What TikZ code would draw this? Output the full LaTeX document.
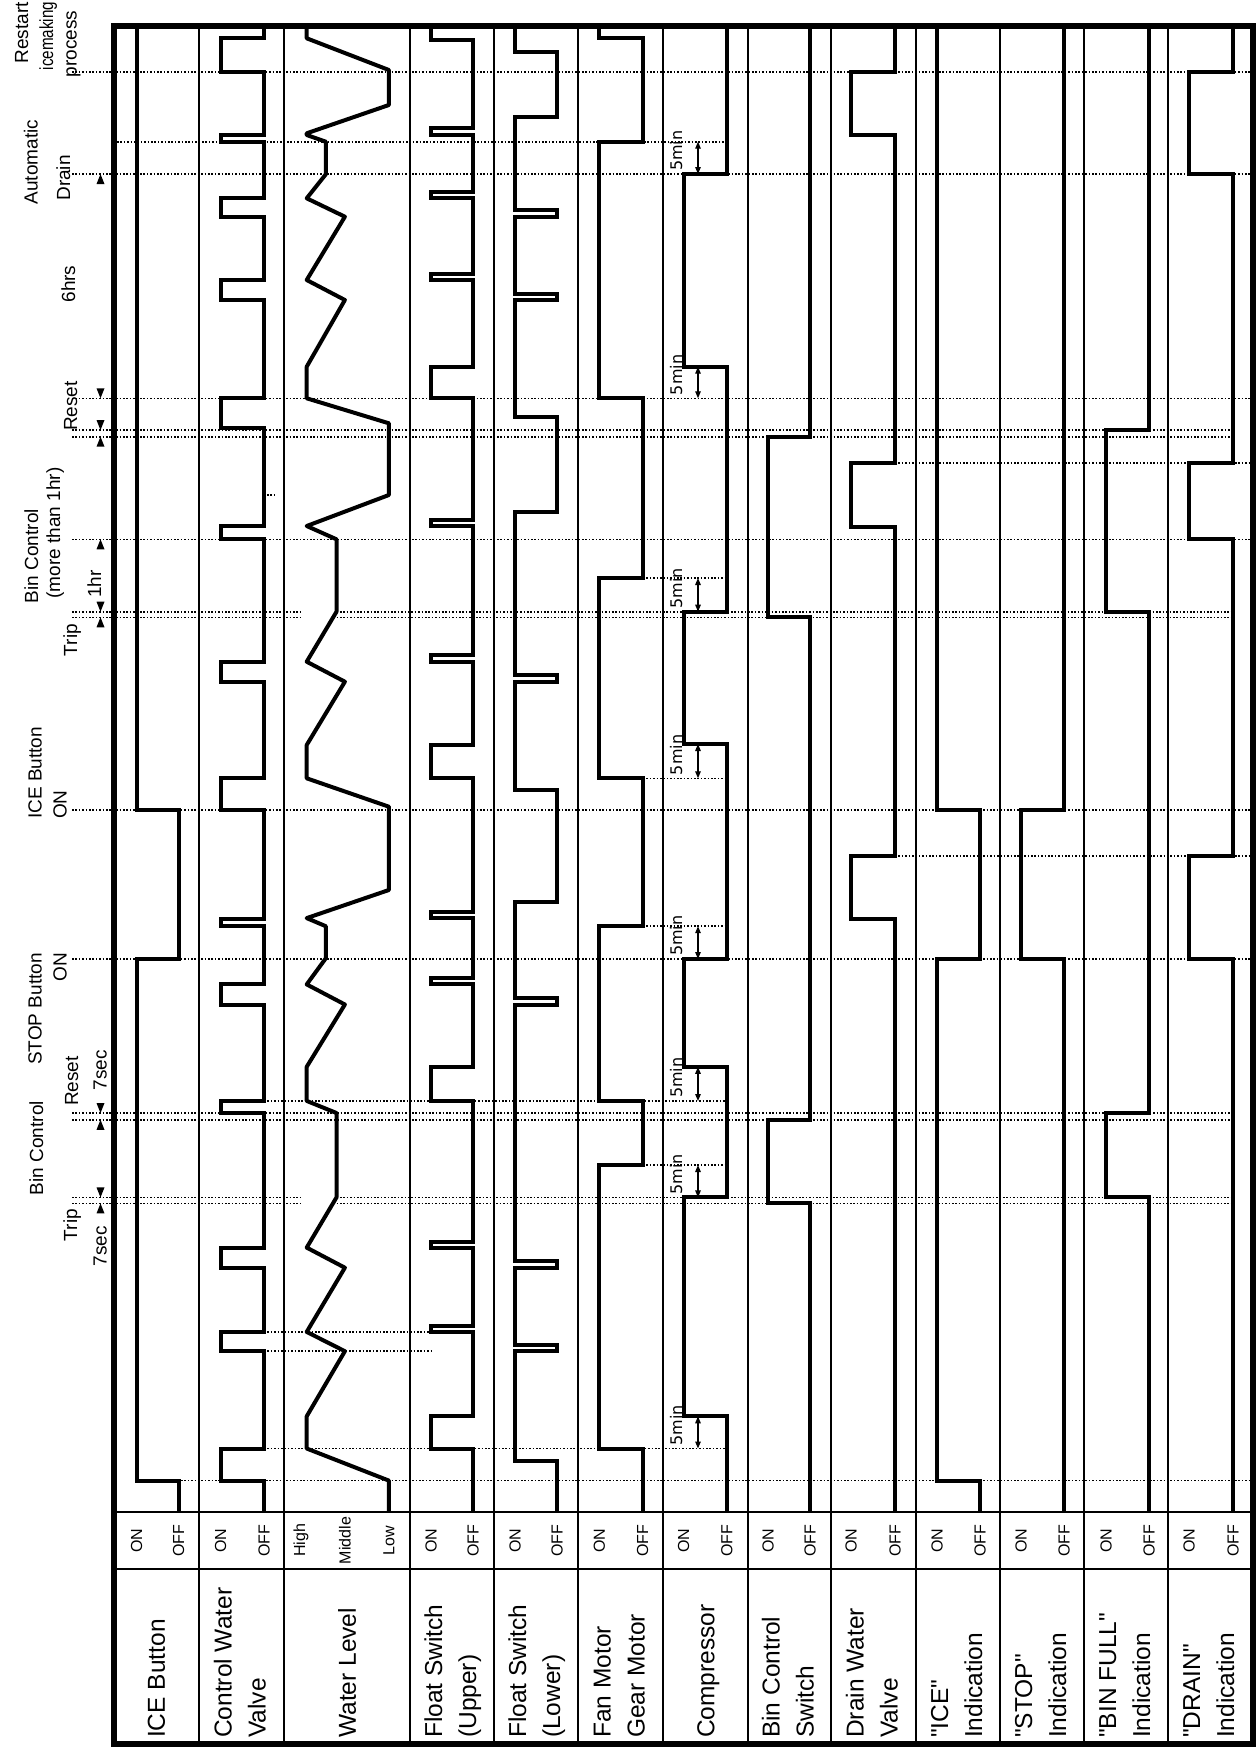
\documentclass[tikz,border=0pt]{standalone}
\usepackage{fontspec}
\setmainfont{Liberation Sans}[Ligatures=TeXOff]
\newfontfamily\dvsans{DejaVu Sans}
\usetikzlibrary{arrows.meta}
\newcommand\mkup[1]{\fill (96.5,{#1+10}) -- (104.5,{#1+10}) -- (100.5,#1) -- cycle;}
\newcommand\mkdown[1]{\fill (96.5,{#1-10}) -- (104.5,{#1-10}) -- (100.5,#1) -- cycle;}
\begin{document}
\begin{tikzpicture}[x=1pt,y=-1pt,
 sig/.style={line width=4pt, line join=miter},
 wsig/.style={line width=4pt, line join=round},
 dotl/.style={line width=1.6pt, dash pattern=on 1.6pt off 1.8pt},
 gridl/.style={line width=1.8pt},
 rowlab/.style={rotate=90, anchor=base west, inner sep=0pt, font=\fontsize{24.5}{29}\selectfont},
 lvl/.style={rotate=90, anchor=center, inner sep=0pt, font=\fontsize{16}{18}\selectfont},
 ann/.style={rotate=90, anchor=base, inner sep=0pt, font=\fontsize{19}{22}\selectfont},
 fivemin/.style={rotate=90, anchor=base west, inner sep=0pt, font=\dvsans\fontsize{16}{18}\selectfont},
 dimarrow/.style={line width=1.3pt, {Triangle[length=7pt,width=5.5pt]}-{Triangle[length=7pt,width=5.5pt]}}
]
\useasboundingbox (0,0) rectangle (1259,1751);

% ---------- dotted time lines ----------
\foreach \y in {72,174,398.3,539.3,810,959}{\draw[dotl] (72,\y) -- (1253,\y);}
\foreach \y in {430,436.7,1113,1119.8}{\draw[dotl] (72,\y) -- (1233,\y);}
\foreach \y in {611.7,617.3,1197.4,1203.4}{\draw[dotl] (72,\y) -- (301,\y); \draw[dotl] (336.5,\y) -- (1233,\y);}
\draw[dotl] (117,141.7) -- (727,141.7);
\foreach \y in {578,778.3,926.2,1165}{\draw[dotl] (643,\y) -- (727,\y);}
\foreach \y in {1101,1448.5}{\draw[dotl] (264,\y) -- (727,\y);}
\foreach \y in {1331.9,1351.2}{\draw[dotl] (264,\y) -- (431,\y);}
\foreach \y in {462.7,856}{\draw[dotl] (895,\y) -- (1253,\y);}
\draw[dotl] (181,1480.6) -- (1253,1480.6);
\draw[dotl] (267,495) -- (274,495);

% ---------- grid ----------
\foreach \x in {199,284,410,494,578,663,748,831,916,1000,1084,1168}{\draw[gridl] (\x,26) -- (\x,1744);}
\draw[gridl] (114,1512) -- (1253,1512);
\draw[gridl] (114,1569) -- (1253,1569);

% ---------- signals ----------
% ICE button
\draw[sig] (136.5,26) -- (136.5,810) -- (178.5,810) -- (178.5,959) -- (136.5,959) -- (136.5,1480.6) -- (178.5,1480.6) -- (178.5,1512);
% Control water valve
\draw[sig] (264,26) -- (264,38.3) -- (220.5,38.3) -- (220.5,71.7) -- (264,71.7)
 -- (264,135) -- (220.5,135) -- (220.5,141.7) -- (264,141.7)
 -- (264,198.3) -- (220.5,198.3) -- (220.5,216.7) -- (264,216.7)
 -- (264,280) -- (220.5,280) -- (220.5,300) -- (264,300)
 -- (264,398.3) -- (220.5,398.3) -- (220.5,428.3) -- (264,428.3)
 -- (264,526) -- (220.5,526) -- (220.5,539.3) -- (264,539.3)
 -- (264,661.7) -- (220.5,661.7) -- (220.5,681.7) -- (264,681.7)
 -- (264,778.3) -- (220.5,778.3) -- (220.5,810) -- (264,810)
 -- (264,918.5) -- (220.5,918.5) -- (220.5,926) -- (264,926)
 -- (264,984.4) -- (220.5,984.4) -- (220.5,1004.5) -- (264,1004.5)
 -- (264,1100.9) -- (220.5,1100.9) -- (220.5,1113) -- (264,1113)
 -- (264,1247.6) -- (220.5,1247.6) -- (220.5,1267.7) -- (264,1267.7)
 -- (264,1331.9) -- (220.5,1331.9) -- (220.5,1351.2) -- (264,1351.2)
 -- (264,1448.5) -- (220.5,1448.5) -- (220.5,1480.6) -- (264,1480.6)
 -- (264,1512);
% Water level
\draw[wsig] (306.7,26) -- (306.7,38.3) -- (388.9,70) -- (388.9,105) -- (306.7,133.3) -- (306.7,135)
 -- (325.8,141.7) -- (325.8,174.3) -- (306.7,198.3) -- (344.9,216.7) -- (306.7,280) -- (344.9,300)
 -- (306.7,366.7) -- (306.7,398.3) -- (388.9,423.3) -- (388.9,495) -- (306.7,526) -- (336.5,539.3)
 -- (336.5,611.7) -- (306.7,661.7) -- (344.9,681.7) -- (306.7,745) -- (306.7,778.3) -- (388.9,806.7)
 -- (388.9,890) -- (306.7,918.1) -- (325.8,926.2) -- (325.8,958.3) -- (306.7,984.4) -- (344.9,1004.5)
 -- (306.7,1066.8) -- (306.7,1100.9) -- (336.5,1113) -- (336.5,1197.4) -- (306.7,1247.6) -- (344.9,1267.7)
 -- (306.7,1331.9) -- (344.9,1351.2) -- (306.7,1416.3) -- (306.7,1448.5) -- (388.9,1480.6) -- (388.9,1512);
% Float switch upper
\draw[sig] (431,26) -- (431,40) -- (473,40)
 -- (473,128.3) -- (431,128.3) -- (431,135) -- (473,135)
 -- (473,191.7) -- (431,191.7) -- (431,198.3) -- (473,198.3)
 -- (473,273.5) -- (431,273.5) -- (431,280) -- (473,280)
 -- (473,366.7) -- (431,366.7) -- (431,398.3) -- (473,398.3)
 -- (473,519.5) -- (431,519.5) -- (431,526) -- (473,526)
 -- (473,655) -- (431,655) -- (431,661.7) -- (473,661.7)
 -- (473,745) -- (431,745) -- (431,778.3) -- (473,778.3)
 -- (473,912) -- (431,912) -- (431,918.1) -- (473,918.1)
 -- (473,978.4) -- (431,978.4) -- (431,984.4) -- (473,984.4)
 -- (473,1066.8) -- (431,1066.8) -- (431,1100.9) -- (473,1100.9)
 -- (473,1241.5) -- (431,1241.5) -- (431,1247.6) -- (473,1247.6)
 -- (473,1325.9) -- (431,1325.9) -- (431,1331.9) -- (473,1331.9)
 -- (473,1416.3) -- (431,1416.3) -- (431,1448.5) -- (473,1448.5)
 -- (473,1512);
% Float switch lower
\draw[sig] (515,26) -- (515,51.7) -- (557,51.7) -- (557,116.7) -- (515,116.7)
 -- (515,210.2) -- (557,210.2) -- (557,216.7) -- (515,216.7)
 -- (515,293.5) -- (557,293.5) -- (557,300) -- (515,300)
 -- (515,416.7) -- (557,416.7) -- (557,511.7) -- (515,511.7)
 -- (515,675.2) -- (557,675.2) -- (557,681.7) -- (515,681.7)
 -- (515,790) -- (557,790) -- (557,902) -- (515,902)
 -- (515,998) -- (557,998) -- (557,1004.5) -- (515,1004.5)
 -- (515,1261.2) -- (557,1261.2) -- (557,1267.7) -- (515,1267.7)
 -- (515,1344.7) -- (557,1344.7) -- (557,1351.2) -- (515,1351.2)
 -- (515,1460.5) -- (557,1460.5) -- (557,1512);
% Fan motor
\draw[sig] (599.4,26) -- (599.4,38.3) -- (642.7,38.3) -- (642.7,141.7) -- (599.4,141.7) -- (599.4,398.3) -- (642.7,398.3)
 -- (642.7,578) -- (599.4,578) -- (599.4,778.3) -- (642.7,778.3) -- (642.7,926.2) -- (599.4,926.2) -- (599.4,1101)
 -- (642.7,1101) -- (642.7,1165) -- (599.4,1165) -- (599.4,1448.5) -- (642.7,1448.5) -- (642.7,1512);
% Compressor
\draw[sig] (726.8,26) -- (726.8,174) -- (683.7,174) -- (683.7,366.7) -- (726.8,366.7) -- (726.8,611.7) -- (683.7,611.7)
 -- (683.7,744) -- (726.8,744) -- (726.8,959) -- (683.7,959) -- (683.7,1066.8) -- (726.8,1066.8) -- (726.8,1197.4)
 -- (683.7,1197.4) -- (683.7,1416.3) -- (726.8,1416.3) -- (726.8,1512);
% Bin control switch
\draw[sig] (810,26) -- (810,436.7) -- (768,436.7) -- (768,617.3) -- (810,617.3) -- (810,1119.8) -- (768,1119.8) -- (768,1203.4) -- (810,1203.4) -- (810,1512);
% Drain water valve
\draw[sig] (895,26) -- (895,72) -- (851,72) -- (851,135) -- (895,135) -- (895,462.7) -- (851,462.7) -- (851,527.3) -- (895,527.3)
 -- (895,856) -- (851,856) -- (851,919.3) -- (895,919.3) -- (895,1512);
% ICE indication
\draw[sig] (937,26) -- (937,810) -- (980,810) -- (980,959) -- (937,959) -- (937,1480.6) -- (980,1480.6) -- (980,1512);
% STOP indication
\draw[sig] (1064,26) -- (1064,810) -- (1021,810) -- (1021,959) -- (1064,959) -- (1064,1512);
% BIN FULL indication
\draw[sig] (1149,26) -- (1149,430) -- (1106,430) -- (1106,611.7) -- (1149,611.7) -- (1149,1113) -- (1106,1113) -- (1106,1197.4) -- (1149,1197.4) -- (1149,1512);
% DRAIN indication
\draw[sig] (1233,26) -- (1233,72) -- (1189,72) -- (1189,174) -- (1233,174) -- (1233,462.7) -- (1189,462.7) -- (1189,539.3) -- (1233,539.3)
 -- (1233,856) -- (1189,856) -- (1189,959) -- (1233,959) -- (1233,1512);

% ---------- 5 min markers ----------
\foreach \u/\l in {141.7/174,366.7/398.3,578/611.7,744/778.3,926.2/959,1066.8/1101,1165/1197.4,1416.3/1448.5}{
 \draw[dimarrow] (698,\u) -- (698,\l);
 \node[fivemin] at (682,{\l-3}) {5min};
}

% ---------- frame ----------
\draw[line width=6pt] (114,26) rectangle (1253,1744);

% ---------- interval markers ----------
\mkup{174} \mkdown{398.3} \mkdown{430} \mkup{436.7} \mkup{539.3} \mkdown{611.7} \mkup{617.3}
\mkdown{1113} \mkup{1119.8} \mkdown{1197.4} \mkup{1203.4}

% ---------- annotations ----------
\node[ann] at (28,33) {Restart};
\node[ann] at (53,36) {\scalebox{0.8}[1]{icemaking}};
\node[ann] at (76.5,44) {process};
\node[ann] at (37.5,162) {Automatic};
\node[ann] at (70,178) {Drain};
\node[ann] at (75,284) {6hrs};
\node[ann] at (77,406) {Reset};
\node[ann] at (38,556) {Bin Control};
\node[ann] at (60,533) {(more than 1hr)};
\node[ann] at (101,584) {1hr};
\node[ann] at (77,640) {Trip};
\node[ann, anchor=base west] at (41.7,819) {ICE Button};
\node[ann, anchor=base west] at (66.7,819) {ON};
\node[ann, anchor=base east] at (41.7,953) {STOP Button};
\node[ann, anchor=base east] at (66.7,953) {ON};
\node[ann] at (78,1081) {Reset};
\node[ann] at (106.5,1070) {7sec};
\node[ann] at (43,1148) {Bin Control};
\node[ann] at (77,1225) {Trip};
\node[ann] at (106.5,1246) {7sec};

% ---------- level labels ----------
\foreach \on/\off in {136.5/178.5,220.5/264,431/473,515/557,599.4/642.7,683.7/726.8,768/810,851/895,937/980,1021/1064,1106/1149,1189/1233}{
 \node[lvl] at (\on,1540.5) {ON};
 \node[lvl] at (\off,1540.5) {OFF};
}
\node[lvl] at (301,1540.5) {High};
\node[lvl] at (345,1540.5) {Middle};
\node[lvl] at (389,1540.5) {Low};

% ---------- row labels ----------
\node[rowlab] at (164.75,1738) {ICE Button};
\node[rowlab] at (231.5,1738) {Control Water};
\node[rowlab] at (265.5,1738) {Valve};
\node[rowlab] at (355.75,1738) {Water Level};
\node[rowlab] at (442,1738) {Float Switch};
\node[rowlab] at (476,1738) {(Upper)};
\node[rowlab] at (526,1738) {Float Switch};
\node[rowlab] at (560,1738) {(Lower)};
\node[rowlab] at (610.5,1738) {Fan Motor};
\node[rowlab] at (644.5,1738) {Gear Motor};
\node[rowlab] at (714.25,1738) {Compressor};
\node[rowlab] at (779.5,1738) {Bin Control};
\node[rowlab] at (813.5,1738) {Switch};
\node[rowlab] at (863.5,1738) {Drain Water};
\node[rowlab] at (897.5,1738) {Valve};
\node[rowlab] at (948,1738) {"ICE"};
\node[rowlab] at (982,1738) {Indication};
\node[rowlab] at (1032,1738) {"STOP"};
\node[rowlab] at (1066,1738) {Indication};
\node[rowlab] at (1116,1738) {"BIN FULL"};
\node[rowlab] at (1150,1738) {Indication};
\node[rowlab] at (1200,1738) {"DRAIN"};
\node[rowlab] at (1234,1738) {Indication};
\end{tikzpicture}
\end{document}
